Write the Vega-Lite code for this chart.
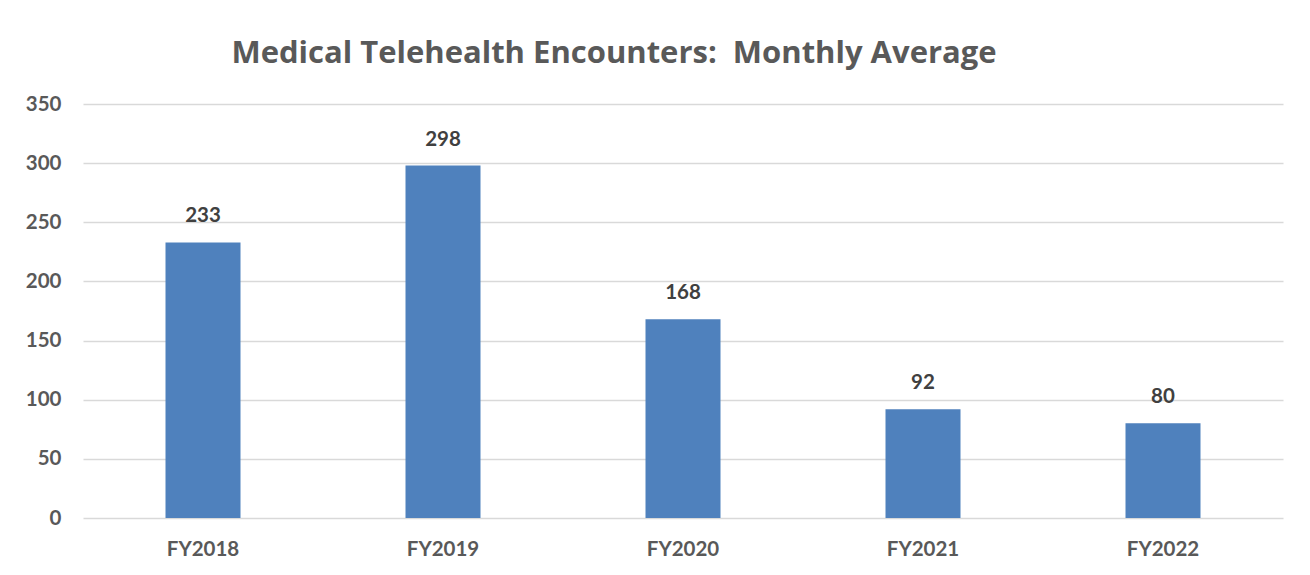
{
  "$schema": "https://vega.github.io/schema/vega-lite/v6.json",
  "autosize": {"type": "none"},
  "width": 1200,
  "height": 414,
  "padding": {"left": 83, "top": 104, "right": 27, "bottom": 57},
  "background": "white",
  "title": {
    "text": "Medical Telehealth Encounters:\u00a0 Monthly Average",
    "font": "Open Sans",
    "fontSize": 31,
    "fontWeight": "bold",
    "color": "#595959",
    "anchor": "middle",
    "frame": "group",
    "dx": -69,
    "offset": 24
  },
  "data": {
    "values": [
      {"year": "FY2018", "value": 233},
      {"year": "FY2019", "value": 298},
      {"year": "FY2020", "value": 168},
      {"year": "FY2021", "value": 92},
      {"year": "FY2022", "value": 80}
    ]
  },
  "encoding": {
    "x": {
      "field": "year",
      "type": "nominal",
      "sort": null,
      "scale": {"paddingInner": 0.6875, "paddingOuter": 0.34375},
      "axis": {
        "title": null,
        "labelAngle": 0,
        "labelFont": "Lato",
        "labelFontSize": 20.5,
        "labelFontWeight": "bold",
        "labelColor": "#595959",
        "labelPadding": 21,
        "labelBaseline": "top",
        "ticks": false,
        "domain": false,
        "grid": false
      }
    },
    "y": {
      "field": "value",
      "type": "quantitative",
      "scale": {"domain": [0, 350], "nice": false},
      "axis": {
        "title": null,
        "values": [0, 50, 100, 150, 200, 250, 300, 350],
        "labelFont": "Lato",
        "labelFontSize": 20.5,
        "labelFontWeight": "bold",
        "labelColor": "#595959",
        "labelPadding": 22,
        "ticks": false,
        "domain": false,
        "grid": true,
        "gridColor": "#d9d9d9",
        "gridWidth": 1.5
      }
    }
  },
  "layer": [
    {"mark": {"type": "bar", "color": "#4f81bd"}},
    {
      "mark": {
        "type": "text",
        "font": "Lato",
        "fontSize": 20.5,
        "fontWeight": "bold",
        "color": "#404040",
        "baseline": "alphabetic",
        "dy": -20
      },
      "encoding": {"text": {"field": "value", "type": "quantitative"}}
    }
  ],
  "config": {"view": {"stroke": null}}
}
